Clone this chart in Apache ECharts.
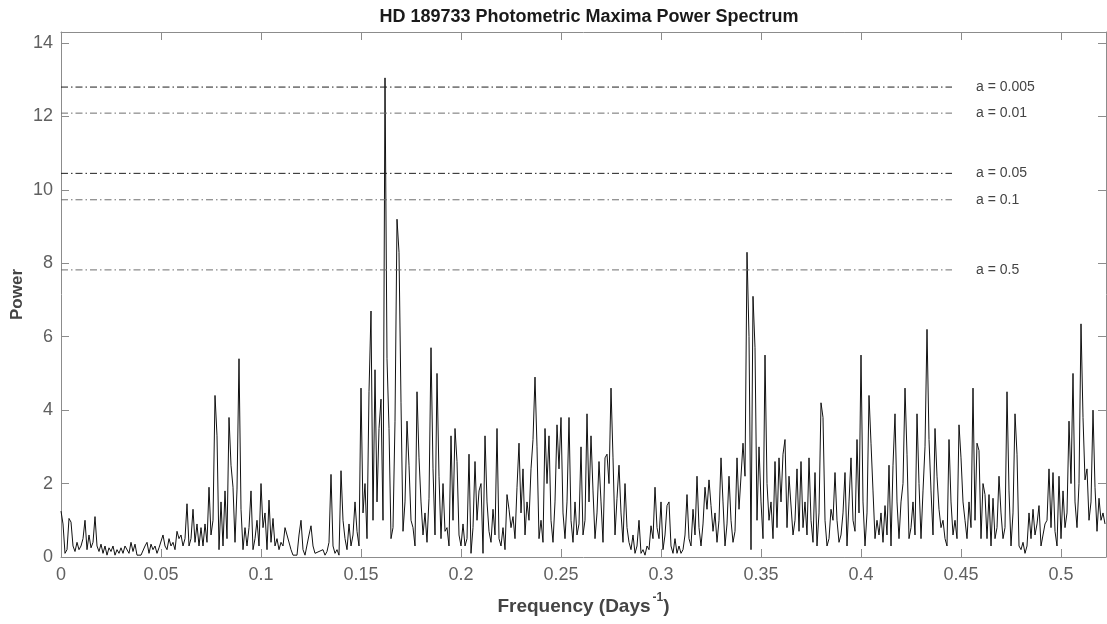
<!DOCTYPE html>
<html>
<head>
<meta charset="utf-8">
<title>HD 189733 Photometric Maxima Power Spectrum</title>
<script src="https://cdn.jsdelivr.net/npm/echarts@6/dist/echarts.min.js"></script>
<style>
  html, body { margin: 0; padding: 0; background: #fff; }
  #chart { width: 1107px; height: 624px; }
</style>
</head>
<body>
<div id="chart"></div>
<script>
// periodogram sampled on a regular frequency grid (days^-1)
var freqStep = 0.001;
var power = [
  1.25, 0.9, 0.1, 0.2, 1.05, 0.95, 0.3, 0.15, 0.4, 0.2,
  0.3, 0.5, 1.0, 0.2, 0.6, 0.25, 0.4, 1.1, 0.3, 0.15,
  0.35, 0.1, 0.3, 0.05, 0.25, 0.15, 0.3, 0.05, 0.2, 0.1,
  0.25, 0.1, 0.3, 0.35, 0.1, 0.4, 0.15, 0.35, 0.05, 0.1,
  0.05, 0.1, 0.3, 0.4, 0.1, 0.35, 0.2, 0.3, 0.1, 0.25,
  0.2, 0.6, 0.3, 0.2, 0.5, 0.3, 0.4, 0.2, 0.7, 0.5,
  0.6, 0.3, 0.5, 1.45, 0.3, 0.5, 1.3, 0.4, 0.9, 0.3,
  0.8, 0.3, 0.9, 0.4, 1.9, 0.6, 1.0, 4.4, 3.3, 0.2,
  1.5, 0.3, 1.8, 0.5, 3.8, 2.5, 1.9, 0.4, 1.85, 5.4,
  1.3, 0.2, 0.8, 0.3, 0.8, 1.8, 0.2, 0.5, 1.0, 0.3,
  2.0, 0.8, 1.2, 0.2, 1.55, 0.4, 1.05, 0.3, 0.5, 0.2,
  0.4, 0.3, 0.8, 0.6, 0.65, 0.2, 0.05, 0.1, 0.05, 0.6,
  1.0, 0.2, 0.05, 0.1, 0.6, 0.85, 0.3, 0.1, 0.05, 0.15,
  0.1, 0.2, 0.05, 0.15, 0.4, 2.25, 0.3, 0.1, 0.2, 0.05,
  2.35, 1.0, 0.5, 0.2, 0.9, 0.3, 0.6, 1.5, 0.7, 0.3,
  4.6, 1.2, 2.0, 0.5, 4.5, 6.7, 1.0, 5.1, 1.5, 3.5,
  4.3, 1.0, 13.05, 5.4, 3.5, 0.5, 0.8, 3.7, 9.2, 8.3,
  4.2, 0.7, 1.5, 3.7, 2.5, 1.0, 0.8, 0.3, 4.5, 2.7,
  1.5, 0.6, 1.2, 0.4, 1.6, 5.7, 2.4, 0.6, 5.0, 2.2,
  0.5, 2.0, 0.7, 0.8, 0.3, 3.3, 1.0, 3.5, 2.6, 0.6,
  0.3, 0.9, 0.3, 0.5, 2.8, 0.1, 0.8, 2.6, 1.0, 1.8,
  2.0, 0.1, 3.3, 1.5, 0.7, 0.4, 1.3, 0.6, 3.5, 0.5,
  0.3, 0.8, 0.2, 1.7, 1.3, 0.8, 1.1, 0.5, 1.9, 3.1,
  1.2, 2.4, 0.6, 1.5, 1.0, 2.4, 3.2, 4.9, 3.0, 0.5,
  1.0, 0.4, 3.5, 2.0, 3.3, 1.0, 0.4, 1.5, 3.6, 2.4,
  3.8, 1.2, 0.5, 1.5, 3.8, 1.0, 0.4, 1.5, 0.6, 0.9,
  3.0, 0.6, 1.0, 3.9, 1.5, 3.3, 1.8, 0.5, 1.2, 2.6,
  1.5, 0.4, 2.7, 2.8, 2.0, 4.6, 2.7, 0.6, 1.6, 2.5,
  1.2, 0.4, 2.0, 0.8, 0.4, 0.2, 0.6, 0.1, 0.3, 1.0,
  0.1, 0.2, 0.05, 0.3, 0.2, 0.85, 0.5, 1.9, 0.8, 0.5,
  1.5, 0.2, 0.6, 1.4, 1.5, 0.3, 0.1, 0.5, 0.1, 0.3,
  0.1, 0.2, 0.6, 1.7, 0.5, 0.3, 1.3, 0.6, 2.2, 0.8,
  0.3, 0.9, 1.9, 1.3, 2.1, 1.4, 0.7, 1.2, 0.4, 1.0,
  2.7, 1.5, 0.3, 0.9, 2.2, 1.0, 0.4, 0.7, 2.7, 1.3,
  1.3, 3.1, 2.2, 8.3, 6.0, 0.2, 7.1, 5.7, 1.0, 3.0,
  1.5, 0.5, 5.5, 2.0, 1.0, 1.5, 0.5, 2.6, 0.8, 2.7,
  1.5, 2.8, 3.2, 0.8, 2.2, 2.2, 0.6, 1.0, 2.4, 0.7,
  2.6, 0.8, 1.5, 0.6, 2.7, 1.0, 0.4, 2.3, 0.3, 1.2,
  4.2, 3.8, 1.0, 0.3, 0.5, 1.3, 1.0, 2.3, 1.0, 0.4,
  0.6, 1.2, 2.3, 0.3, 1.5, 2.7, 1.0, 0.7, 3.2, 1.2,
  5.5, 1.5, 0.3, 1.2, 4.4, 3.1, 1.8, 0.5, 1.0, 0.6,
  1.2, 0.4, 1.4, 0.6, 2.5, 0.3, 2.5, 3.9, 1.5, 0.5,
  1.5, 2.0, 4.6, 2.8, 0.5, 0.8, 1.5, 0.6, 3.9, 2.0,
  0.5, 1.8, 3.0, 6.2, 3.2, 1.8, 0.6, 3.5, 2.2, 1.3,
  0.8, 1.0, 0.5, 0.3, 3.2, 1.5, 0.6, 1.0, 0.5, 3.6,
  2.7, 1.5, 1.0, 0.5, 1.5, 0.8, 4.6, 1.0, 3.1, 2.9,
  0.5, 2.0, 1.7, 0.5, 1.7, 0.3, 1.6, 0.5, 0.8, 2.2,
  1.2, 0.5, 0.8, 4.5, 1.8, 0.3, 1.2, 3.9, 2.8, 0.3,
  0.2, 0.4, 0.1, 0.3, 1.2, 0.5, 1.3, 0.6, 0.9, 1.4,
  0.3, 0.6, 0.9, 1.0, 2.4, 0.8, 2.3, 0.7, 0.3, 2.2,
  0.5, 1.8, 0.8, 1.2, 3.7, 2.0, 5.0, 1.5, 0.8, 2.0,
  6.35, 3.8, 2.1, 2.4, 1.0, 1.5, 4.0, 1.9, 0.7, 1.6,
  1.0, 1.2, 0.9
];

// false alarm probability levels
var alphaLabels = ["a = 0.005", "a = 0.01", "a = 0.05", "a = 0.1", "a = 0.5"];
var alphaLevels = [12.8, 12.09, 10.45, 9.73, 7.82];
var alphaEnd = 0.4455;

var axisGrey = "#8c8c8c";
var fontFam = "'Liberation Sans', Arial, Helvetica, sans-serif";

var myChart = echarts.init(document.getElementById("chart"));

var spectrum = power.map(function (p, i) {
  return [+(i * freqStep).toFixed(4), p];
});

var alphaSeries = alphaLevels.map(function (lvl, k) {
  var dark = k === 0 || k === 2;
  return {
    name: alphaLabels[k],
    type: "line",
    data: [[0, lvl], [alphaEnd, lvl]],
    showSymbol: false,
    silent: true,
    lineStyle: {
      color: dark ? "#1e1e1e" : "#6e6e6e",
      width: 1,
      type: [7, 3, 1.5, 3],
    },
    endLabel: {
      show: true,
      formatter: alphaLabels[k],
      distance: 24,
      color: "#444",
      fontSize: 14,
      fontFamily: fontFam,
    },
    z: 3,
  };
});

// MATLAB-like box: inside ticks, no zero snapping
function boxAxis(extra) {
  var base = {
    type: "value",
    axisLine: { show: true, onZero: false, lineStyle: { color: axisGrey } },
    axisTick: { inside: true, length: 8, lineStyle: { color: axisGrey } },
    splitLine: { show: false },
  };
  return Object.assign(base, extra);
}

var tickLabel = {
  fontSize: 18,
  color: "#606060",
  fontFamily: fontFam,
  showMaxLabel: false,
};

var option;
option = {
  animation: false,
  backgroundColor: "#fff",
  title: {
    text: "HD 189733 Photometric Maxima Power Spectrum",
    left: 584,
    top: 3,
    textAlign: "center",
    textStyle: {
      fontSize: 18,
      fontWeight: "bold",
      color: "#1a1a1a",
      fontFamily: fontFam,
    },
  },
  grid: {
    left: 61,
    right: 1,
    top: 32,
    bottom: 67,
    containLabel: false,
    outerBoundsMode: "none",
  },
  xAxis: [
    boxAxis({
      min: 0,
      max: 0.5225,
      interval: 0.05,
      name: "{base|Frequency (Days}{sup|-1}{base|)}",
      nameLocation: "middle",
      nameGap: 35,
      nameMoveOverlap: false,
      nameTextStyle: {
        rich: {
          base: {
            fontSize: 19,
            fontWeight: "bold",
            color: "#444",
            fontFamily: fontFam,
            lineHeight: 24,
            verticalAlign: "bottom",
          },
          sup: {
            fontSize: 12,
            fontWeight: "bold",
            color: "#444",
            fontFamily: fontFam,
            lineHeight: 12,
            verticalAlign: "top",
            padding: [0, 0, 0, 2],
          },
        },
      },
      axisLabel: Object.assign({ margin: 9 }, tickLabel),
    }),
    boxAxis({
      position: "top",
      min: 0,
      max: 0.5225,
      interval: 0.05,
      axisLabel: { show: false },
    }),
  ],
  yAxis: [
    boxAxis({
      min: 0,
      max: 14.3,
      interval: 2,
      name: "Power",
      nameLocation: "middle",
      nameGap: 35,
      nameMoveOverlap: false,
      nameTextStyle: {
        fontSize: 17,
        fontWeight: "bold",
        color: "#444",
        fontFamily: fontFam,
      },
      axisLabel: Object.assign({ margin: 8 }, tickLabel),
    }),
    boxAxis({
      position: "right",
      min: 0,
      max: 14.3,
      interval: 2,
      axisLabel: { show: false },
    }),
  ],
  series: [
    {
      name: "Power",
      type: "line",
      data: spectrum,
      showSymbol: false,
      sampling: false,
      lineStyle: { color: "#111", width: 1 },
      z: 2,
    },
  ].concat(alphaSeries),
};
option && myChart.setOption(option);
</script>
</body>
</html>
